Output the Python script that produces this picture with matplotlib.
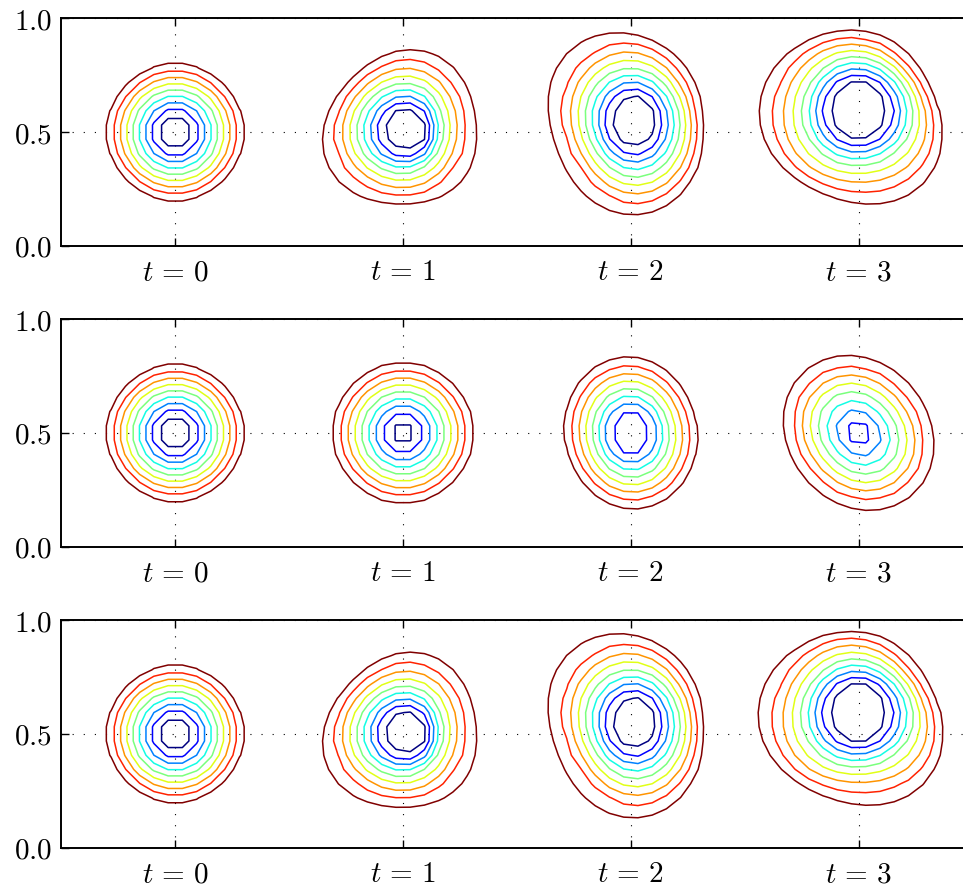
import numpy as np
import matplotlib.pyplot as plt

plt.rcParams['mathtext.fontset'] = 'cm'

# contour levels: outermost ring (dark red) .. innermost ring (dark blue)
levels = [0.1, 0.2, 0.3, 0.4, 0.5, 0.6, 0.7, 0.8, 0.9]
tick_x = [0.5, 1.5, 2.5, 3.5]
tick_labels = [r'$t\,=\,0$', r'$t\,=\,1$', r'$t\,=\,2$', r'$t\,=\,3$']

# every ring shape is given as radii in 8 directions: E, NE, N, NW, W, SW, S, SE
# ---- top panel ----
top_cx = [0.5, 1.51, 2.513, 3.499]
top_cy = [0.5, 0.51, 0.547, 0.597]
top_peak = [1.0, 1.0, 1.0, 1.0]
top_outer = [[0.300] * 8,
             [0.313, 0.340, 0.351, 0.327, 0.360, 0.364, 0.326, 0.335],
             [0.305, 0.330, 0.383, 0.419, 0.370, 0.375, 0.410, 0.360],
             [0.352, 0.330, 0.350, 0.390, 0.435, 0.410, 0.410, 0.428]]
top_red = [[0.267] * 8,
           [0.258, 0.285, 0.304, 0.290, 0.308, 0.300, 0.286, 0.270],
           [0.276, 0.290, 0.339, 0.340, 0.309, 0.310, 0.355, 0.320],
           [0.318, 0.292, 0.315, 0.345, 0.371, 0.370, 0.355, 0.370]]
top_mid = [[0.188] * 8,
           [0.162, 0.185, 0.204, 0.205, 0.213, 0.205, 0.188, 0.175],
           [0.203, 0.210, 0.233, 0.230, 0.210, 0.215, 0.243, 0.225],
           [0.239, 0.225, 0.234, 0.240, 0.244, 0.250, 0.241, 0.245]]
top_inner = [[0.077] * 8,
             [0.095] * 8,
             [0.100, 0.107, 0.115, 0.107, 0.100, 0.107, 0.115, 0.107],
             [0.130] * 8]

# ---- middle panel ----
mid_cx = [0.5, 1.5, 2.5, 3.5]
mid_cy = [0.5, 0.5, 0.5, 0.5]
mid_peak = [1.0, 0.917, 0.87, 0.84]
mid_outer = [[0.300] * 8,
             [0.308] * 8,
             [0.291, 0.303, 0.334, 0.318, 0.291, 0.303, 0.334, 0.318],
             [0.327, 0.310, 0.337, 0.360, 0.327, 0.310, 0.337, 0.360]]
mid_red = [[0.267] * 8,
           [0.271] * 8,
           [0.256, 0.266, 0.293, 0.279, 0.256, 0.266, 0.293, 0.279],
           [0.278, 0.262, 0.287, 0.305, 0.278, 0.262, 0.287, 0.305]]
mid_mid = [[0.188] * 8,
           [0.183] * 8,
           [0.168, 0.177, 0.196, 0.185, 0.168, 0.177, 0.196, 0.185],
           [0.175, 0.160, 0.180, 0.195, 0.175, 0.160, 0.180, 0.195]]
mid_inner = [[0.077] * 8,
             [0.060] * 8,
             [0.088, 0.093, 0.098, 0.093, 0.088, 0.093, 0.098, 0.093],
             [0.058, 0.055, 0.060, 0.065, 0.058, 0.055, 0.060, 0.065]]

# ---- bottom panel ----
bot_cx = [0.5, 1.51, 2.514, 3.497]
bot_cy = [0.5, 0.505, 0.548, 0.594]
bot_peak = [1.0, 1.0, 1.0, 1.0]
bot_outer = [[0.300] * 8,
             [0.313, 0.340, 0.353, 0.327, 0.360, 0.364, 0.328, 0.335],
             [0.304, 0.330, 0.386, 0.419, 0.372, 0.378, 0.417, 0.362],
             [0.360, 0.335, 0.355, 0.392, 0.438, 0.410, 0.405, 0.425]]
bot_red = [[0.267] * 8,
           [0.258, 0.285, 0.304, 0.290, 0.308, 0.300, 0.286, 0.270],
           [0.276, 0.290, 0.339, 0.340, 0.309, 0.310, 0.355, 0.320],
           [0.325, 0.295, 0.325, 0.345, 0.369, 0.370, 0.343, 0.370]]
bot_mid = [[0.188] * 8,
           [0.162, 0.185, 0.204, 0.205, 0.213, 0.205, 0.188, 0.175],
           [0.203, 0.210, 0.233, 0.230, 0.210, 0.215, 0.243, 0.225],
           [0.243, 0.225, 0.233, 0.240, 0.247, 0.250, 0.237, 0.245]]
bot_inner = [[0.077] * 8,
             [0.095] * 8,
             [0.100, 0.107, 0.115, 0.107, 0.100, 0.107, 0.115, 0.107],
             [0.130] * 8]

# solution grid, 64 x 16 cells
h = 1.0 / 16
X, Y = np.meshgrid((np.arange(64) + 0.5) * h, (np.arange(16) + 0.5) * h)
ang8 = np.arange(8) * np.pi / 4


def ring(vals, th):
    # smooth periodic curve through the 8 radii
    v = np.asarray(vals, float)
    r = np.full_like(th, v.mean())
    for n in (1, 2, 3):
        r += (v @ np.cos(n * ang8)) / 4 * np.cos(n * th) + (v @ np.sin(n * ang8)) / 4 * np.sin(n * th)
    r += (v @ np.cos(4 * ang8)) / 8 * np.cos(4 * th)
    return r


def blob(cx, cy, peak, outer, red, mid, inner):
    dx, dy = X - cx, Y - cy
    r = np.hypot(dx, dy)
    th = np.arctan2(dy, dx)
    r_out, r_red, r_mid, r_in = [ring(v, th) for v in (outer, red, mid, inner)]
    top = 0.9 if peak > 0.9 else 0.8
    f = np.where(r >= r_red, 0.2 - 0.1 * (r - r_red) / (r_out - r_red),
        np.where(r >= r_mid, 0.5 - 0.3 * (r - r_mid) / (r_red - r_mid),
        np.where(r >= r_in, top - (top - 0.5) * (r - r_in) / (r_mid - r_in),
                 peak - (peak - top) * (r / r_in) ** 2)))
    return np.clip(f, 0, None)


panels = [(top_cx, top_cy, top_peak, top_outer, top_red, top_mid, top_inner),
          (mid_cx, mid_cy, mid_peak, mid_outer, mid_red, mid_mid, mid_inner),
          (bot_cx, bot_cy, bot_peak, bot_outer, bot_red, bot_mid, bot_inner)]
bottoms = [0.7236, 0.3857, 0.0475]

fig = plt.figure(figsize=(9.63, 8.90), dpi=100)
for b, p in zip(bottoms, panels):
    ax = fig.add_axes([0.0637, b, 0.9462, 0.2558])
    Z = np.zeros_like(X)
    for k in range(4):
        Z = np.maximum(Z, blob(*[q[k] for q in p]))
    ax.contour(X, Y, Z, levels=levels, cmap='jet_r', linewidths=1.1)

    ax.set_xlim(0, 4)
    ax.set_ylim(0, 1)
    ax.set_xticks(tick_x)
    ax.set_xticklabels(tick_labels)
    ax.set_yticks([0, 0.5, 1.0])
    ax.set_yticklabels(['$0.0$', '$0.5$', '$1.0$'])
    ax.tick_params(direction='in', top=True, right=True, length=6, width=1, labelsize=21)
    ax.tick_params(axis='x', pad=9)
    ax.tick_params(axis='y', pad=7)
    ax.grid(True, color='k', linestyle=(0, (1, 9)), linewidth=0.8)
    for s in ax.spines.values():
        s.set_linewidth(1.4)

plt.savefig('out.png', dpi=100)
